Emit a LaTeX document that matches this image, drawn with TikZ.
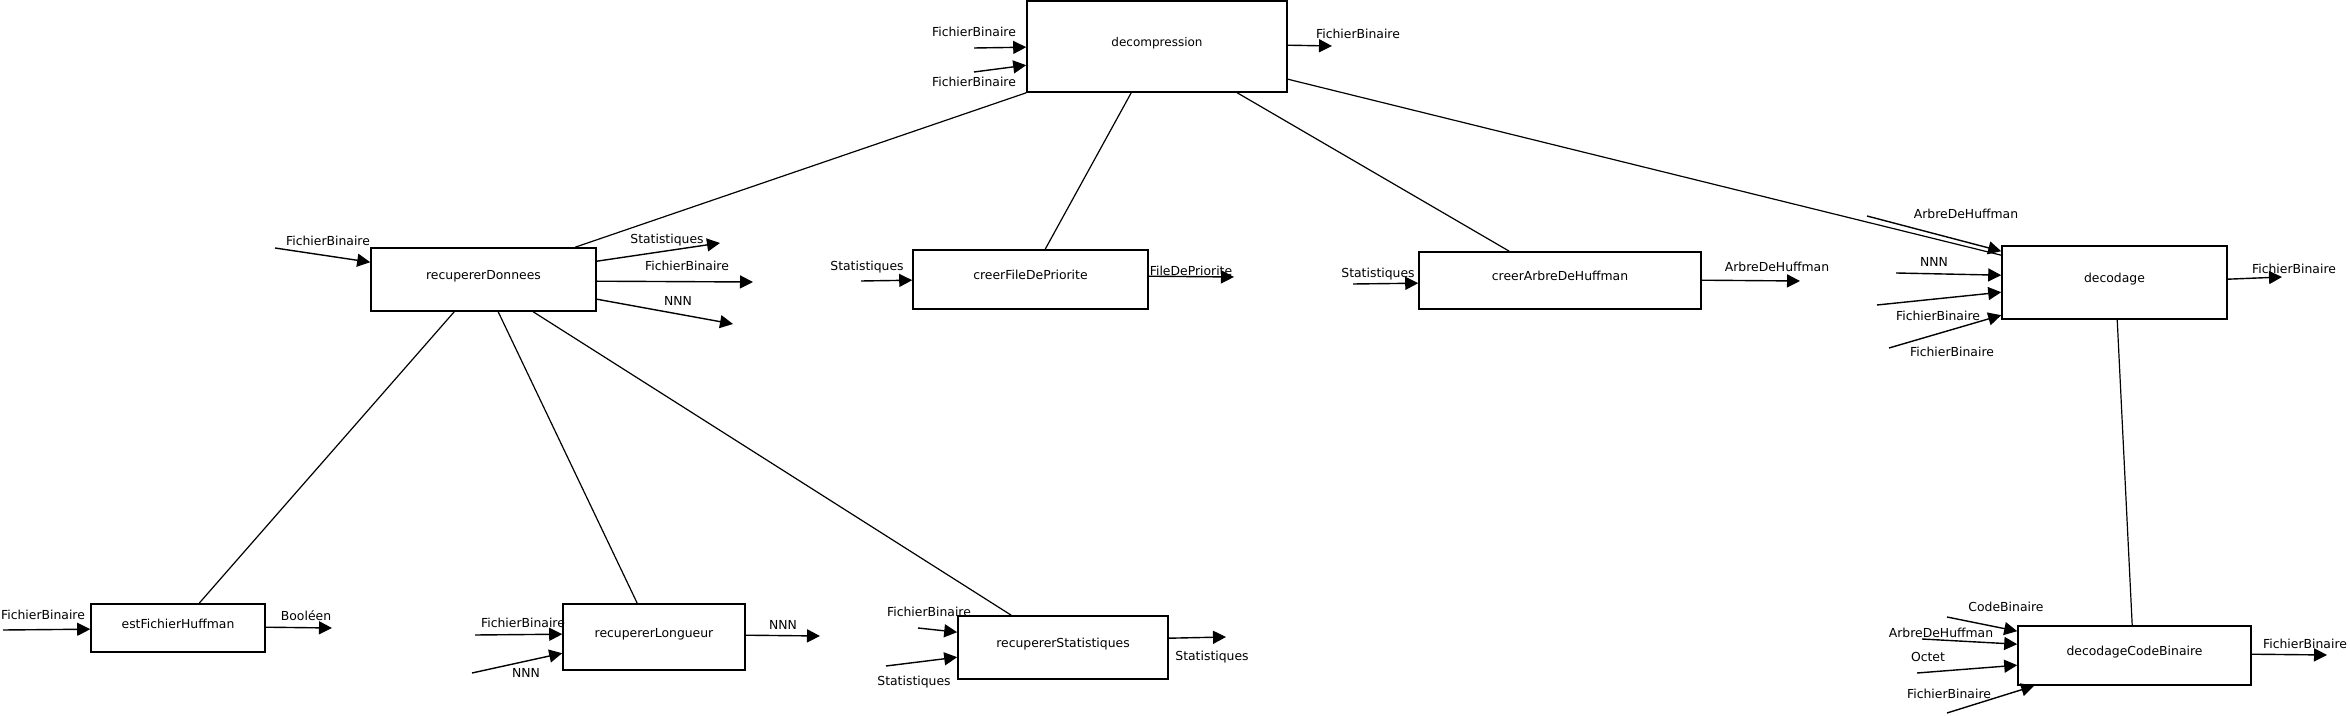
\documentclass[tikz,border=0pt]{standalone}
\usepackage{fontspec}
\setmainfont{DejaVu Sans}
\usetikzlibrary{arrows.meta,calc}
\begin{document}
\begin{tikzpicture}[x=0.5pt,y=-0.5pt,
  box/.style={draw,line width=0.8pt,inner sep=0pt,text height=0.5em,text depth=0.5em,font=\fontsize{6.2}{7}\selectfont},
  lab/.style={inner sep=0pt,text height=0.72em,text depth=0pt,font=\fontsize{6.2}{7}\selectfont},
  arr/.style={line width=0.7pt,-{Triangle[length=6.5pt,width=6.5pt]}},
  conn/.style={line width=0.6pt}]
\fill[white] (0,0) rectangle (2350,716);
\useasboundingbox (0,0) rectangle (2350,716);

% boxes
\node[box,minimum width=130pt,minimum height=45.5pt,font=\fontsize{6}{7}\selectfont] (dec) at (1157,46.5) {decompression};
\node[box,minimum width=112.5pt,minimum height=31.5pt] (rd) at (483.5,279.5) {recupererDonnees};
\node[box,minimum width=117.5pt,minimum height=29.5pt] (cfp) at (1030.5,279.5) {creerFileDePriorite};
\node[box,minimum width=141pt,minimum height=28.5pt] (cah) at (1560,280.5) {creerArbreDeHuffman};
\node[box,minimum width=112.5pt,minimum height=36.5pt] (dcd) at (2114.5,282.5) {decodage};
\node[box,minimum width=116.5pt,minimum height=29.5pt] (dcb) at (2134.5,655.5) {decodageCodeBinaire};
\node[box,minimum width=87pt,minimum height=24pt] (efh) at (178,628) {estFichierHuffman};
\node[box,minimum width=91pt,minimum height=33pt] (rl) at (654,637) {recupererLongueur};
\node[box,minimum width=105pt,minimum height=31.5pt] (rs) at (1063,647.5) {recupererStatistiques};

% connectors between boxes
\draw[conn] (dec.south west) -- ($(rd.north west)+(205,0)$);
\draw[conn] ($(dec.south west)+(105,0)$) -- ($(cfp.north west)+(133,0)$);
\draw[conn] ($(dec.south west)+(211,0)$) -- ($(cah.north west)+(91,0)$);
\draw[conn] ($(dec.north east)+(0,79)$) -- ($(dcd.north west)+(0,10)$);
\draw[conn] ($(rd.south west)+(84,0)$) -- ($(efh.north west)+(109,0)$);
\draw[conn] ($(rd.south west)+(128,0)$) -- ($(rl.north west)+(75,0)$);
\draw[conn] ($(rd.south west)+(163,0)$) -- ($(rs.north west)+(54,0)$);
\draw[conn] ($(dcd.south west)+(116,0)$) -- ($(dcb.north west)+(115,0)$);

% free ends
\coordinate (a1) at (974,48);
\coordinate (a2) at (974,72);
\coordinate (a3) at (1332,46);
\coordinate (b1) at (275,248);
\coordinate (b2) at (720,243);
\coordinate (b3) at (753,282);
\coordinate (b4) at (733,324);
\coordinate (c1) at (861,281);
\coordinate (c2) at (1234,277);
\coordinate (d1) at (1353,284);
\coordinate (d2) at (1800,281);
\coordinate (e1) at (1867,216);
\coordinate (e2) at (1896,273);
\coordinate (e3) at (1877,305);
\coordinate (e4) at (1889,348);
\coordinate (e5) at (2282,277);
\coordinate (f1) at (1947,617);
\coordinate (f2) at (1922,639);
\coordinate (f3) at (1917,673);
\coordinate (f4) at (1947,713);
\coordinate (f5) at (2327,655);
\coordinate (g1) at (3,630);
\coordinate (g2) at (332,628);
\coordinate (h1) at (475,635);
\coordinate (h2) at (472,673);
\coordinate (h3) at (820,636);
\coordinate (i1) at (918,628);
\coordinate (i2) at (886,666);
\coordinate (i3) at (1226,637);

% arrows: decompression
\draw[arr] (a1) -- ($(dec.north west)+(0,47)$);
\draw[arr] (a2) -- ($(dec.north west)+(0,65)$);
\draw[arr] ($(dec.north east)+(0,45)$) -- (a3);
% recupererDonnees
\draw[arr] (b1) -- ($(rd.north west)+(0,15)$);
\draw[arr] ($(rd.north east)+(0,14)$) -- (b2);
\draw[arr] ($(rd.north east)+(0,34)$) -- (b3);
\draw[arr] ($(rd.north east)+(0,52)$) -- (b4);
% creerFileDePriorite
\draw[arr] (c1) -- ($(cfp.north west)+(0,31)$);
\draw[arr] ($(cfp.north east)+(0,27)$) -- (c2);
% creerArbreDeHuffman
\draw[arr] (d1) -- ($(cah.north west)+(0,32)$);
\draw[arr] ($(cah.north east)+(0,29)$) -- (d2);
% decodage
\draw[arr] (e1) -- ($(dcd.north west)+(0,6)$);
\draw[arr] (e2) -- ($(dcd.north west)+(0,30)$);
\draw[arr] (e3) -- ($(dcd.north west)+(0,47)$);
\draw[arr] (e4) -- ($(dcd.north west)+(0,70)$);
\draw[arr] ($(dcd.north east)+(0,34)$) -- (e5);
% decodageCodeBinaire
\draw[arr] (f1) -- ($(dcb.north west)+(0,6)$);
\draw[arr] (f2) -- ($(dcb.north west)+(0,19)$);
\draw[arr] (f3) -- ($(dcb.north west)+(0,40)$);
\draw[arr] (f4) -- ($(dcb.south west)+(17,0)$);
\draw[arr] ($(dcb.north east)+(0,29)$) -- (f5);
% estFichierHuffman
\draw[arr] (g1) -- ($(efh.north west)+(0,26)$);
\draw[arr] ($(efh.north east)+(0,24)$) -- (g2);
% recupererLongueur
\draw[arr] (h1) -- ($(rl.north west)+(0,31)$);
\draw[arr] (h2) -- ($(rl.north west)+(0,50)$);
\draw[arr] ($(rl.north east)+(0,32)$) -- (h3);
% recupererStatistiques
\draw[arr] (i1) -- ($(rs.north west)+(0,17)$);
\draw[arr] (i2) -- ($(rs.north west)+(0,42)$);
\draw[arr] ($(rs.north east)+(0,23)$) -- (i3);

% labels
\node[lab] (la1) at (974,29) {FichierBinaire};
\node[lab] (la2) at (974,79) {FichierBinaire};
\node[lab] (la3) at (1358,31) {FichierBinaire};
\node[lab] (lb1) at (328,238) {FichierBinaire};
\node[lab] (lb2) at (667,236) {Statistiques};
\node[lab] (lb3) at (687,263) {FichierBinaire};
\node[lab] (lb4) at (678,298) {NNN};
\node[lab] (lc1) at (867,263) {Statistiques};
\node[lab] (lc2) at (1191,268) {FileDePriorite};
\node[lab] (ld1) at (1378,270) {Statistiques};
\node[lab] (ld2) at (1777,264) {ArbreDeHuffman};
\node[lab] (le1) at (1966,211) {ArbreDeHuffman};
\node[lab] (le2) at (1934,259) {NNN};
\node[lab] (le3) at (1938,313) {FichierBinaire};
\node[lab] (le4) at (1952,349) {FichierBinaire};
\node[lab] (le5) at (2294,266) {FichierBinaire};
\node[lab] (lf1) at (2006,604) {CodeBinaire};
\node[lab] (lf2) at (1941,630) {ArbreDeHuffman};
\node[lab] (lf3) at (1928,654) {Octet};
\node[lab] (lf4) at (1949,691) {FichierBinaire};
\node[lab] (lf5) at (2305,641) {FichierBinaire};
\node[lab] (lg1) at (43,612) {FichierBinaire};
\node[lab] (lg2) at (306,613) {Booléen};
\node[lab] (lh1) at (523,620) {FichierBinaire};
\node[lab] (lh2) at (526,670) {NNN};
\node[lab] (lh3) at (783,622) {NNN};
\node[lab] (li1) at (929,609) {FichierBinaire};
\node[lab] (li2) at (914,678) {Statistiques};
\node[lab] (li3) at (1212,653) {Statistiques};
\end{tikzpicture}
\end{document}
